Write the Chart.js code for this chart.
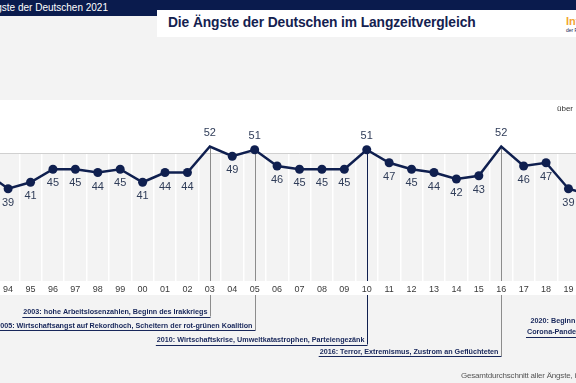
<!DOCTYPE html>
<html lang="de">
<head>
<meta charset="utf-8">
<title>Die Ängste der Deutschen im Langzeitvergleich</title>
<script src="https://cdn.jsdelivr.net/npm/chart.js@4.4.1/dist/chart.umd.min.js"></script>
<style>
    html, body { margin: 0; padding: 0; }
    body {
        width: 576px;
        height: 383px;
        overflow: hidden;
        position: relative;
        background: #f3f3f3;
        font-family: Arial, "Liberation Sans", sans-serif;
    }
    .bar-top { position: absolute; left: 0; top: 0; width: 576px; height: 10px; background: #0a1b4d; }
    .bar-left { position: absolute; left: 0; top: 0; width: 157px; height: 16px; background: #0a1b4d; }
    .kicker {
        position: absolute; right: 468px; top: 2px;
        color: #fff; font-size: 10px; line-height: 12px; white-space: nowrap;
    }
    .title-box { position: absolute; left: 157px; top: 10px; width: 430px; height: 27px; background: #fff; }
    .title {
        position: absolute; left: 11px; top: 5px;
        font-weight: bold; font-size: 13.8px; letter-spacing: -0.1px;
        color: #14214f; white-space: nowrap;
    }
    .logo { position: absolute; left: 409px; top: 5px; white-space: nowrap; }
    .logo b { display: block; color: #f2a531; font-size: 11px; line-height: 12px; }
    .logo span { display: block; color: #14214f; font-size: 5px; line-height: 6px; }
    #chart { position: absolute; left: -30px; top: 100px; }
    .unit {
        position: absolute; left: 557px; top: 104px;
        font-size: 8px; color: #333; white-space: nowrap;
    }
    .footer {
        position: absolute; left: 461px; top: 371px;
        font-size: 8px; letter-spacing: -0.2px; color: #555; white-space: nowrap;
    }
</style>
</head>
<body>
<div class="bar-top"></div>
<div class="bar-left"></div>
<div class="kicker">Die Ängste der Deutschen 2021</div>
<div class="title-box">
    <div class="title">Die Ängste der Deutschen im Langzeitvergleich</div>
    <div class="logo"><b>Infocenter</b><span>der R+V Versicherung</span></div>
</div>
<canvas id="chart" width="659" height="283"></canvas>
<div class="unit">über</div>
<div class="footer">Gesamtdurchschnitt aller Ängste, in Prozent</div>

<script>
// Years on the x axis (two digits, as printed)
const years = ['93', '94', '95', '96', '97', '98', '99', '00', '01', '02', '03', '04', '05', '06',
               '07', '08', '09', '10', '11', '12', '13', '14', '15', '16', '17', '18', '19', '20', '21'];

// Average of all fears, in percent
const angstIndex = [44, 39, 41, 45, 45, 44, 45, 41, 44, 44, 52, 49, 51, 46,
                    45, 45, 45, 51, 47, 45, 44, 42, 43, 52, 46, 47, 39, 37, 36];

// Years with an event note and their text
const eventYears = ['03', '05', '10', '16', '20'];
const eventTexts = [
    ['2003: hohe Arbeitslosenzahlen, Beginn des Irakkriegs'],
    ['2005: Wirtschaftsangst auf Rekordhoch, Scheitern der rot-grünen Koalition'],
    ['2010: Wirtschaftskrise, Umweltkatastrophen, Parteiengezänk'],
    ['2016: Terror, Extremismus, Zustrom an Geflüchteten'],
    ['2020: Beginn der', 'Corona-Pandemie']
];

// Layout of the notes (canvas coordinates, canvas starts at page y = 100)
const noteRowY = [212, 225.7, 240, 251.7, 221];
const noteLineColor = ['#8c8c8c', '#8c8c8c', '#0f1f4f', '#8c8c8c', '#8c8c8c'];
const NAVY = '#0f1f4f';
const STRIP = 14; // white strip holding the year labels

Chart.defaults.font.family = 'Arial, "Liberation Sans", sans-serif';

const backdrop = {
    id: 'backdrop',
    beforeDraw(chart) {
        const { ctx, chartArea: a, width, height } = chart;
        ctx.save();
        ctx.fillStyle = '#ffffff';
        ctx.fillRect(0, 0, width, a.top);
        ctx.fillStyle = '#f3f3f3';
        ctx.fillRect(0, a.top, width, a.bottom - a.top);
        ctx.fillStyle = '#ffffff';
        ctx.fillRect(0, a.bottom, width, STRIP);
        ctx.fillStyle = '#f3f3f3';
        ctx.fillRect(0, a.bottom + STRIP, width, height - a.bottom - STRIP);
        ctx.restore();
    },
    beforeDatasetsDraw(chart) {
        const { ctx, chartArea: a, scales } = chart;
        ctx.save();
        // top border of the plot band
        ctx.strokeStyle = '#d0d0d0';
        ctx.lineWidth = 1;
        ctx.beginPath();
        ctx.moveTo(0, a.top + 0.5);
        ctx.lineTo(chart.width, a.top + 0.5);
        ctx.stroke();

        // leader lines from the points down to the notes
        eventYears.forEach((yr, i) => {
            const idx = years.indexOf(yr);
            const x = Math.round(scales.x.getPixelForValue(idx)) + 0.5;
            const y = scales.y.getPixelForValue(angstIndex[idx]);
            const lines = eventTexts[i];
            const yEnd = noteRowY[i] + (lines.length - 1) * 11 + 4.5;
            ctx.strokeStyle = noteLineColor[i];
            ctx.lineWidth = 1;
            ctx.beginPath();
            ctx.moveTo(x, y);
            ctx.lineTo(x, a.bottom);
            ctx.moveTo(x, a.bottom + STRIP);
            ctx.lineTo(x, yEnd);
            ctx.stroke();
        });
        ctx.restore();
    },
    afterDatasetsDraw(chart) {
        const { ctx } = chart;
        const meta = chart.getDatasetMeta(0);
        ctx.save();

        // value labels
        ctx.font = '11px Arial, "Liberation Sans", sans-serif';
        ctx.fillStyle = '#2f3c58';
        ctx.textAlign = 'center';
        ctx.textBaseline = 'middle';
        meta.data.forEach((pt, i) => {
            const above = angstIndex[i] >= 50;
            ctx.fillText(String(angstIndex[i]), pt.x, pt.y + (above ? -14 : 14));
        });

        // event notes
        ctx.font = 'bold 7.2px Arial, "Liberation Sans", sans-serif';
        ctx.textAlign = 'right';
        eventYears.forEach((yr, i) => {
            const idx = years.indexOf(yr);
            const x = Math.round(chart.scales.x.getPixelForValue(idx)) + 0.5;
            const lines = eventTexts[i];
            let widest = 0;
            ctx.fillStyle = '#17265a';
            lines.forEach((t, k) => {
                ctx.fillText(t, x - 3, noteRowY[i] + k * 11);
                widest = Math.max(widest, ctx.measureText(t).width);
            });
            const yu = Math.round(noteRowY[i] + (lines.length - 1) * 11 + 4.5) + 0.5;
            ctx.strokeStyle = '#17265a';
            ctx.lineWidth = 1;
            ctx.beginPath();
            ctx.moveTo(x - 4 - widest, yu);
            ctx.lineTo(x, yu);
            ctx.stroke();
        });
        ctx.restore();
    }
};

new Chart(document.getElementById('chart'), {
    type: 'line',
    data: {
        labels: years,
        datasets: [{
            data: angstIndex,
            borderColor: NAVY,
            backgroundColor: NAVY,
            borderWidth: 2.5,
            pointRadius: 4.5,
            pointBorderWidth: 0,
            pointBackgroundColor: NAVY,
            tension: 0,
            clip: false
        }]
    },
    options: {
        responsive: false,
        animation: false,
        layout: { padding: { top: 53, bottom: 88, left: 0, right: 0 } },
        plugins: {
            legend: { display: false },
            tooltip: { enabled: false }
        },
        scales: {
            x: {
                offset: true,
                grid: { color: '#ffffff', lineWidth: 1.5, offset: true, drawTicks: false },
                border: { display: false },
                ticks: {
                    color: '#3a3a3a',
                    font: { size: 9 },
                    padding: 3,
                    maxRotation: 0,
                    autoSkip: false
                },
                afterFit(scale) { scale.height = STRIP; }
            },
            y: { display: false, min: 10.6, max: 50 }
        }
    },
    plugins: [backdrop]
});
</script>
</body>
</html>
